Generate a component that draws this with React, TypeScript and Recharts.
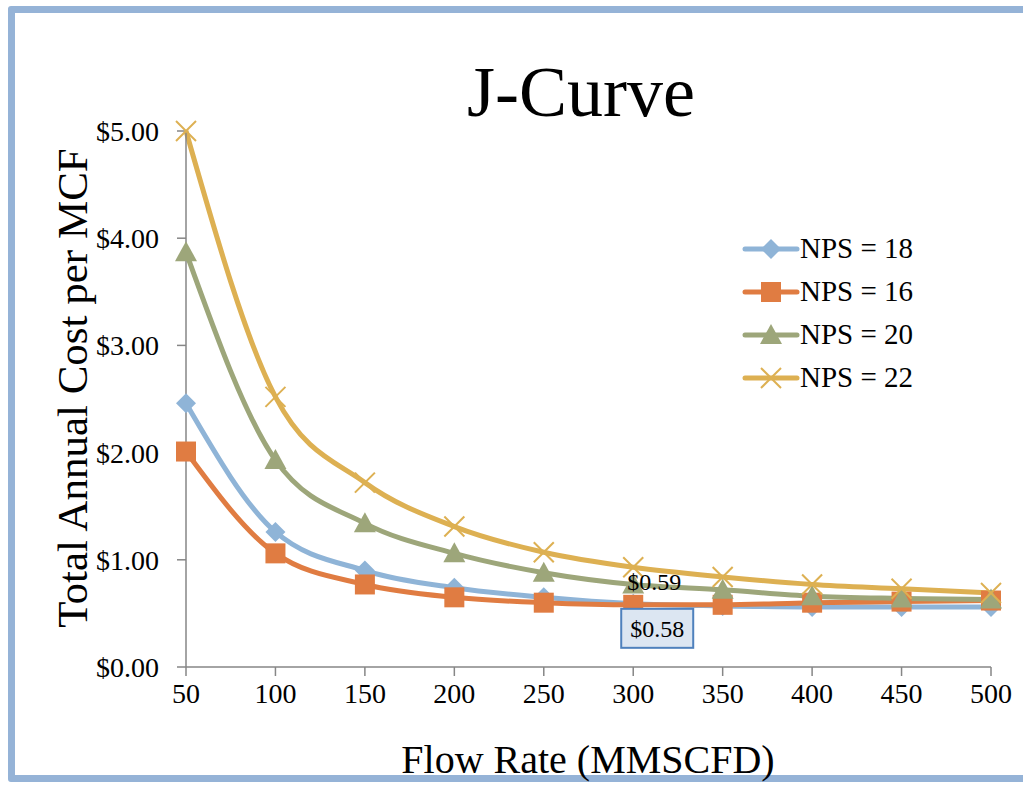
import React from 'react';
import { LineChart, Line, XAxis, YAxis, Legend, Label } from 'recharts';

const flowRates = [50, 100, 150, 200, 250, 300, 350, 400, 450, 500];
const nps18 = [2.46, 1.26, 0.9, 0.74, 0.65, 0.59, 0.57, 0.56, 0.56, 0.56];
const nps16 = [2.01, 1.06, 0.77, 0.65, 0.6, 0.58, 0.58, 0.6, 0.61, 0.62];
const nps20 = [3.87, 1.93, 1.34, 1.06, 0.88, 0.77, 0.72, 0.66, 0.64, 0.63];
const nps22 = [5.0, 2.52, 1.72, 1.31, 1.07, 0.93, 0.84, 0.77, 0.73, 0.69];
const yTicks = [0, 1, 2, 3, 4, 5];
const labeledIndex = 5;

const FONT = '"Liberation Serif", "DejaVu Serif", serif';

const data = flowRates.map((f, i) => ({
  flow: f,
  n18: nps18[i],
  n16: nps16[i],
  n20: nps20[i],
  n22: nps22[i],
}));

type Shape = 'diamond' | 'square' | 'triangle' | 'x';

const series: { key: string; name: string; color: string; shape: Shape }[] = [
  { key: 'n18', name: 'NPS = 18', color: '#8FB4D7', shape: 'diamond' },
  { key: 'n16', name: 'NPS = 16', color: '#E07C42', shape: 'square' },
  { key: 'n20', name: 'NPS = 20', color: '#9DA67A', shape: 'triangle' },
  { key: 'n22', name: 'NPS = 22', color: '#DDB052', shape: 'x' },
];

function marker(shape: Shape, cx: number, cy: number, color: string, key?: any) {
  if (shape === 'diamond') {
    const s = 10;
    return <polygon key={key} points={`${cx},${cy - s} ${cx + s},${cy} ${cx},${cy + s} ${cx - s},${cy}`} fill={color} />;
  }
  if (shape === 'square') {
    const s = 10;
    return <rect key={key} x={cx - s} y={cy - s} width={2 * s} height={2 * s} fill={color} />;
  }
  if (shape === 'triangle') {
    return <polygon key={key} points={`${cx},${cy - 11} ${cx + 11},${cy + 9} ${cx - 11},${cy + 9}`} fill={color} />;
  }
  const s = 10;
  return (
    <g key={key}>
      <line x1={cx - s} y1={cy - s} x2={cx + s} y2={cy + s} stroke={color} strokeWidth={2} />
      <line x1={cx - s} y1={cy + s} x2={cx + s} y2={cy - s} stroke={color} strokeWidth={2} />
    </g>
  );
}

const makeDot = (shape: Shape, color: string) => (props: any) => {
  const { cx, cy, index } = props;
  if (cx == null || cy == null) return <g key={index} />;
  return marker(shape, cx, cy, color, index);
};

const LegendContent = () => (
  <div style={{ fontFamily: FONT }}>
    {series.map((s) => (
      <div key={s.key} style={{ display: 'flex', alignItems: 'center', height: 43 }}>
        <svg width={58} height={26} style={{ display: 'block' }}>
          <line x1={3} y1={13} x2={55} y2={13} stroke={s.color} strokeWidth={5} strokeLinecap="round" />
          {marker(s.shape, 29, 13, s.color)}
        </svg>
        <span style={{ fontSize: 29, color: '#000', lineHeight: 1 }}>{s.name}</span>
      </div>
    ))}
  </div>
);

const label59 = (props: any) => {
  const { x, y, index, value } = props;
  if (index !== labeledIndex) return null;
  return (
    <text x={x - 6} y={y - 14} fontFamily={FONT} fontSize={24} fill="#000" textAnchor="start">
      {`$${Number(value).toFixed(2)}`}
    </text>
  );
};

const label58 = (props: any) => {
  const { x, y, index, value } = props;
  if (index !== labeledIndex) return null;
  return (
    <g>
      <rect x={x - 12} y={y + 4} width={72} height={39} fill="#DCE6F2" stroke="#4F81BD" strokeWidth={2} />
      <text x={x + 24} y={y + 32} fontFamily={FONT} fontSize={24} fill="#000" textAnchor="middle">
        {`$${Number(value).toFixed(2)}`}
      </text>
    </g>
  );
};

export default function App() {
  return (
    <div style={{ position: 'fixed', left: 0, top: 0, width: 1023, height: 785, overflow: 'hidden', background: '#fff' }}>
      <div
        style={{
          position: 'absolute',
          left: 8,
          top: 6,
          width: 1200,
          height: 776,
          border: '7px solid #95B3D7',
          borderRadius: 3,
          boxSizing: 'border-box',
        }}
      />
      <div
        style={{
          position: 'absolute',
          left: 381,
          top: 47,
          width: 400,
          textAlign: 'center',
          fontFamily: FONT,
          fontSize: 72,
          lineHeight: '90px',
          color: '#000',
        }}
      >
        J-Curve
      </div>
      <div style={{ position: 'absolute', left: 0, top: 0 }}>
        <LineChart width={1023} height={785} data={data} margin={{ top: 131, right: 32, bottom: 0, left: 0 }}>
          <XAxis
            dataKey="flow"
            type="number"
            domain={[50, 500]}
            ticks={flowRates}
            height={118}
            axisLine={{ stroke: '#868686', strokeWidth: 1.5 }}
            tickLine={{ stroke: '#868686', strokeWidth: 1.5 }}
            tickSize={9}
            tickMargin={7}
            tick={{ fontFamily: FONT, fontSize: 28, fill: '#000' }}
            interval={0}
          >
            <Label
              content={(p: any) => (
                <text x={588} y={773} fontFamily={FONT} fontSize={40} fill="#000" textAnchor="middle">
                  Flow Rate (MMSCFD)
                </text>
              )}
            />
          </XAxis>
          <YAxis
            type="number"
            domain={[0, 5]}
            ticks={yTicks}
            width={186}
            axisLine={{ stroke: '#868686', strokeWidth: 1.5 }}
            tickLine={{ stroke: '#868686', strokeWidth: 1.5 }}
            tickSize={9}
            tickMargin={18}
            tick={{ fontFamily: FONT, fontSize: 28, fill: '#000' }}
            tickFormatter={(v: number) => `$${v.toFixed(2)}`}
            interval={0}
          >
            <Label
              content={(p: any) => (
                <text
                  x={87}
                  y={388}
                  fontFamily={FONT}
                  fontSize={43}
                  fill="#000"
                  textAnchor="middle"
                  transform="rotate(-90, 87, 388)"
                >
                  Total Annual Cost per MCF
                </text>
              )}
            />
          </YAxis>
          <Legend
            layout="vertical"
            align="center"
            verticalAlign="middle"
            content={<LegendContent />}
            wrapperStyle={{ left: 742, top: 227, width: 240 }}
          />
          {series.map((s) => (
            <Line
              key={s.key}
              type="monotone"
              dataKey={s.key}
              name={s.name}
              stroke={s.color}
              strokeWidth={5}
              dot={makeDot(s.shape, s.color)}
              activeDot={false}
              isAnimationActive={false}
              label={s.key === 'n18' ? label59 : s.key === 'n16' ? label58 : undefined}
            />
          ))}
        </LineChart>
      </div>
    </div>
  );
}
